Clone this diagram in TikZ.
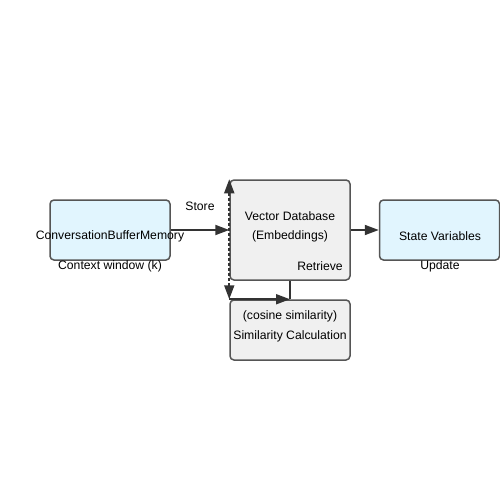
\documentclass[tikz,border=0pt]{standalone}
\usepackage{fontspec}
\setmainfont{Liberation Sans}
\usetikzlibrary{arrows.meta}
\definecolor{boxblue}{HTML}{E1F5FE}
\definecolor{boxgray}{HTML}{F0F0F0}
\definecolor{edge}{HTML}{333333}
\definecolor{rim}{HTML}{555555}

\begin{document}
\begin{tikzpicture}[x=1pt,y=-1pt,
  box/.style={draw=rim, line width=1.5pt, rounded corners=4pt, minimum width=120pt, minimum height=60pt, inner sep=0pt},
  lbl/.style={font=\fontsize{12.2}{14}\selectfont, inner sep=0pt, text=black},
  arr/.style={draw=edge, line width=1.8pt, -{Triangle[length=14pt,width=10pt]}}]
\useasboundingbox (0,0) rectangle (500,500);
% boxes
\node[box, fill=boxblue] (conv) at (110,230) {};
\node[box, fill=boxgray, minimum height=100pt] (vdb) at (290,230) {};
\node[box, fill=boxblue] (state) at (439.5,230) {};
\node[box, fill=boxgray] (sim) at (290,330) {};
% texts
\node[lbl] (convtxt) at (110,236) {ConversationBufferMemory};
\node[lbl] (ctxtxt) at (110,266) {Context window (k)};
\node[lbl] (vdbtxt) at (290,216) {Vector Database};
\node[lbl] (embtxt) at (290,236) {(Embeddings)};
\node[lbl] (rettxt) at (320,266) {Retrieve};
\node[lbl] (statetxt) at (440,236) {State Variables};
\node[lbl] (updtxt) at (440,266) {Update};
\node[lbl] (costxt) at (290,316) {(cosine similarity)};
\node[lbl] (simtxt) at (290,336) {Similarity Calculation};
\node[lbl] (storetxt) at (200,206) {Store};
% connectors
\draw[arr] (conv.east) -- (vdb.west);
\draw[arr] (vdb.east) -- (state.west);
\draw[edge, line width=1.8pt] (vdb.south) -- (sim.north);
\draw[arr] (sim.north west) -- (sim.north);
\draw[arr, {Triangle[length=14pt,width=10pt]}-{Triangle[length=14pt,width=10pt]}, dash pattern=on 3pt off 2pt] (sim.north west) -- (vdb.north west);
\end{tikzpicture}
\end{document}
